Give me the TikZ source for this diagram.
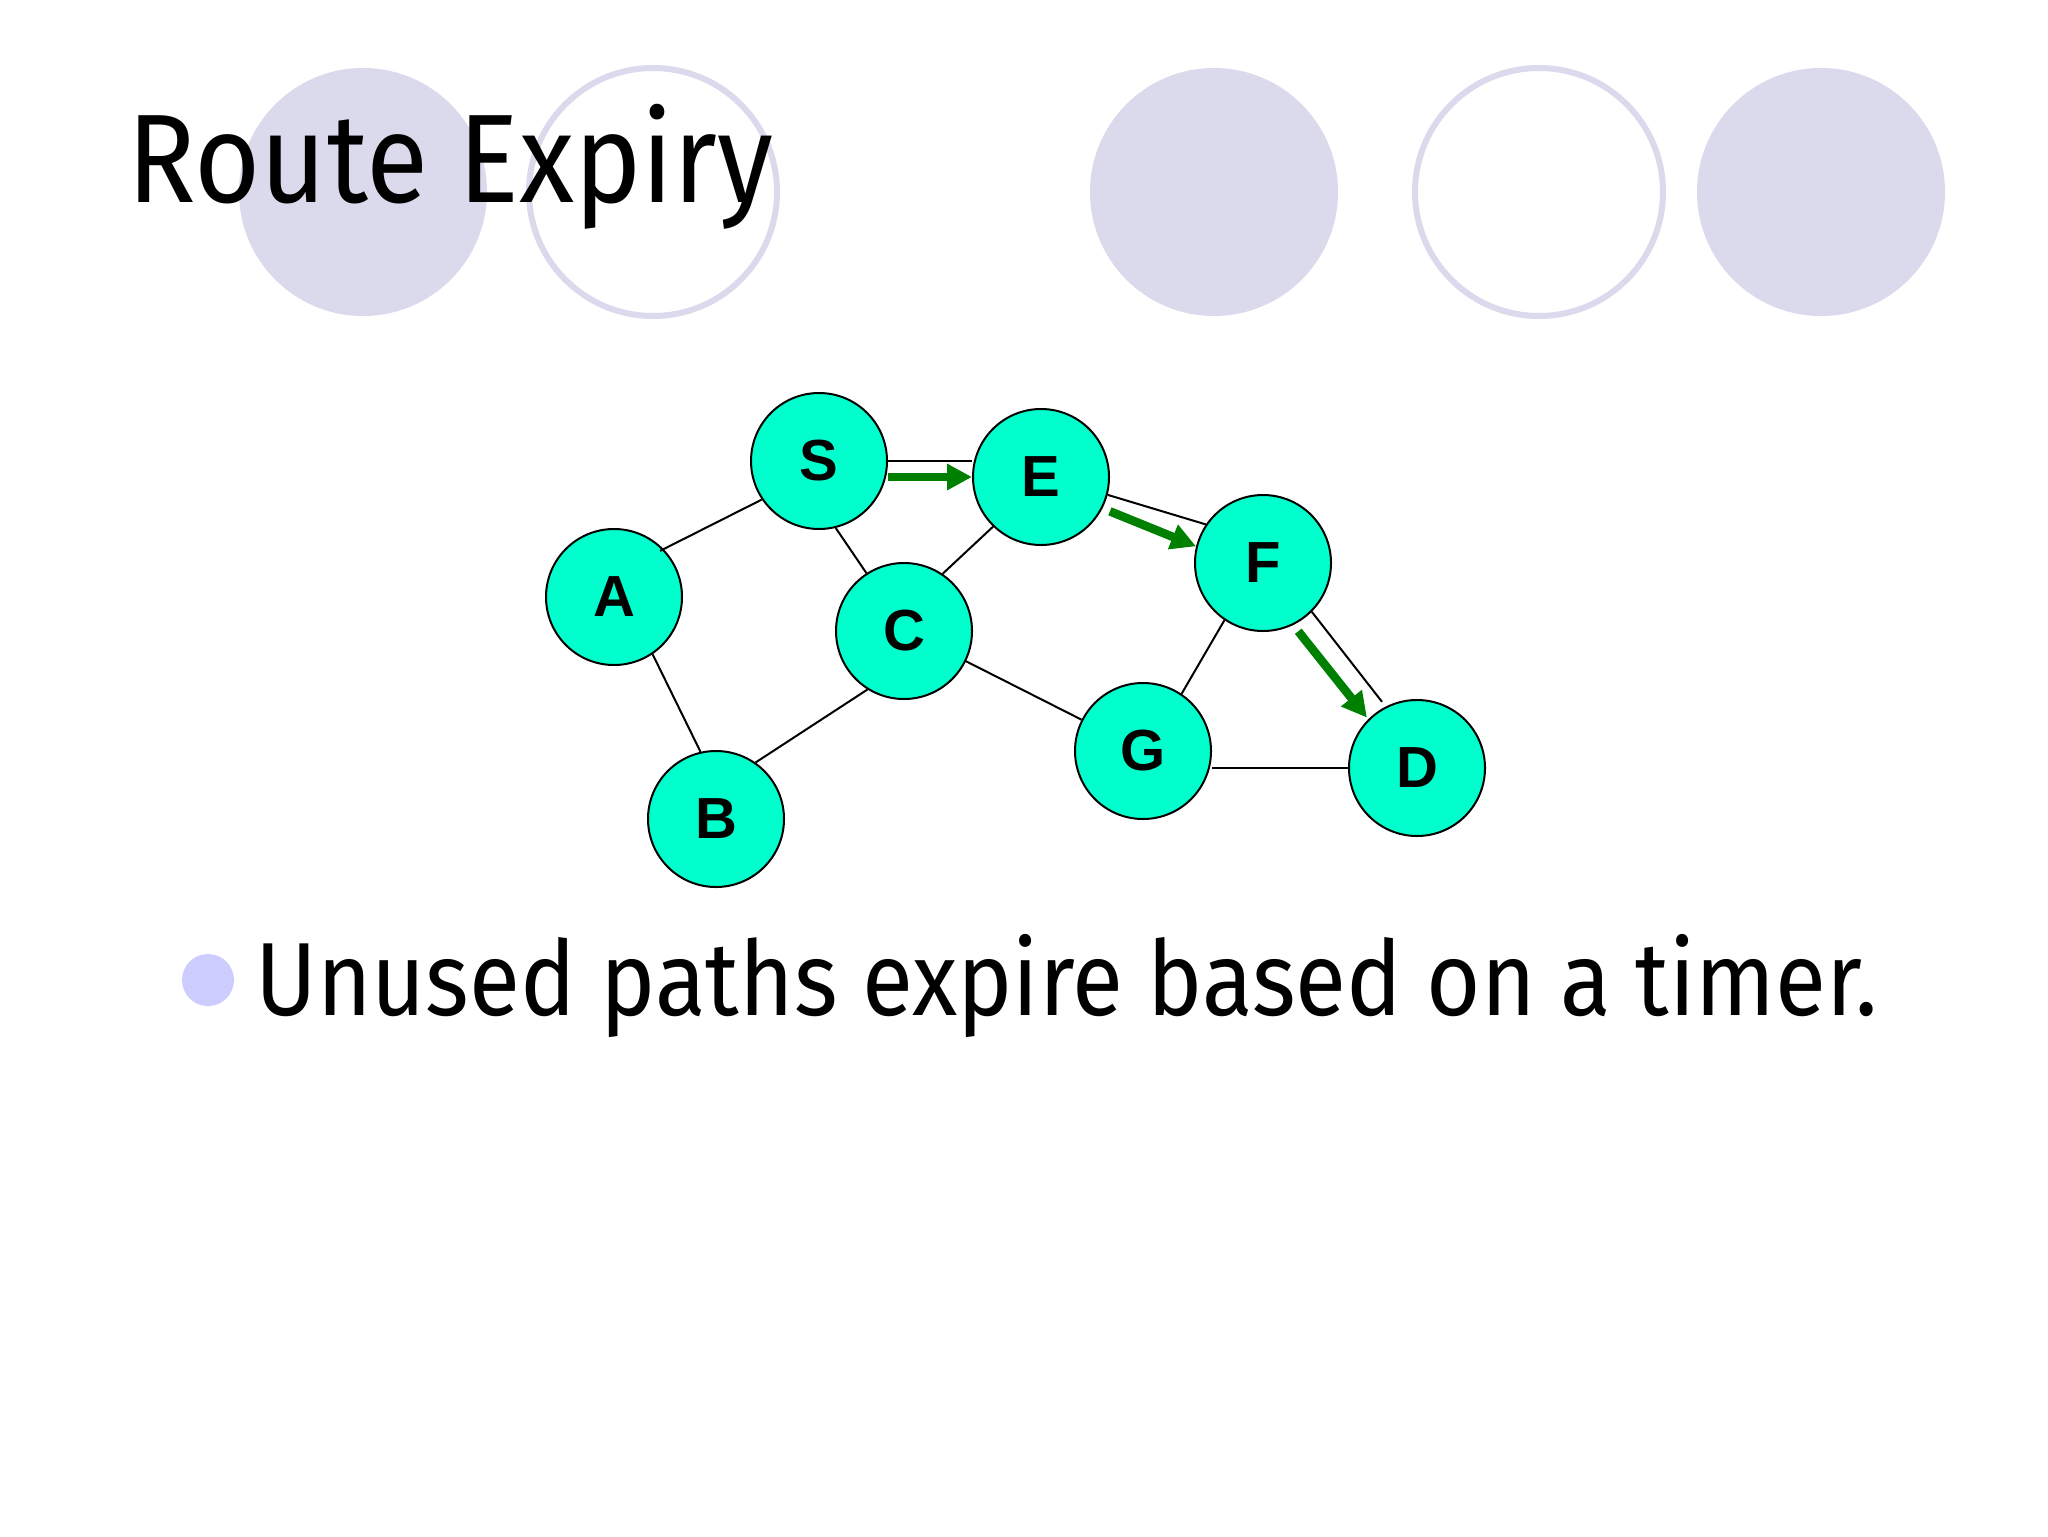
\documentclass[tikz,border=0pt]{standalone}
\usepackage{fontspec}
\usepackage{graphicx}
\usetikzlibrary{arrows.meta}
\newfontfamily\titlefont{Fira Sans}
\newfontfamily\labelfont{Liberation Sans}
\definecolor{lav}{RGB}{218,218,236}
\definecolor{bul}{RGB}{204,204,255}
\definecolor{aqua}{RGB}{0,255,204}
\definecolor{grn}{RGB}{0,128,0}
\begin{document}
\begin{tikzpicture}[x=0.5pt,y=-0.5pt,
  netnode/.style={circle,draw=black,line width=1pt,fill=aqua,minimum size=68pt,inner sep=0pt,
    font=\labelfont\bfseries\fontsize{29}{30}\selectfont},
  link/.style={line width=1pt,black},
  route/.style={line width=4.3pt,grn,-{Triangle[length=12.5pt,width=12.5pt]}},
  deco/.style={fill=lav},
  ring/.style={draw=lav,line width=3pt,fill=white}]
\useasboundingbox[fill=white] (0,0) rectangle (2048,1536);
% decorative circles
\fill[deco] (363,192) circle[radius=62pt];
\draw[ring] (653,192) circle[radius=62pt];
\fill[deco] (1214,192) circle[radius=62pt];
\draw[ring] (1539,192) circle[radius=62pt];
\fill[deco] (1821,192) circle[radius=62pt];
% title
\node[anchor=base west,inner sep=0pt] (title) at (127,202)
  {\resizebox{323pt}{\height}{\titlefont\fontsize{63}{70}\selectfont Route Expiry}};
% nodes
\node[netnode] (S) at (819,461) {S};
\node[netnode] (E) at (1041,477) {E};
\node[netnode] (A) at (614,597) {A};
\node[netnode] (C) at (904,631) {C};
\node[netnode] (F) at (1263,563) {F};
\node[netnode] (G) at (1143,751) {G};
\node[netnode] (D) at (1417,768) {D};
\node[netnode] (B) at (716,819) {B};
% links
\draw[link,shorten <=-2pt] (A.44) -- (S.214);
\draw[link] (S.-76) -- (C.123);
\draw[link] (E.226) -- (C.56);
\draw[link] (S.east) -- (E.west |- S.east);
\draw[link] (C.-26) -- (G.153);
\draw[link] (A.-56) -- (B.103);
\draw[link] (C.238) -- (B.55);
\draw[link] (E.-15) -- (F.146);
\draw[link] (F.236) -- (G.56);
\draw[link,shorten >=3pt] (F.-45) -- (D.117);
\draw[link] (G.east |- D.west) -- (D.west);
% route arrows
\draw[route] (S.east |- E.west) -- (E.west);
\draw[route,shorten <=4pt] (E.-27) -- (F.166);
\draw[route,shorten <=4pt,shorten >=1pt] (F.-64) -- (D.135);
% bullet
\fill[bul] (208,980) circle[radius=13pt];
\node[anchor=base west,inner sep=0pt] (bullet) at (255,1015)
  {\resizebox{811pt}{\height}{\titlefont\fontsize{52}{60}\selectfont Unused paths expire based on a timer.}};
\end{tikzpicture}
\end{document}
